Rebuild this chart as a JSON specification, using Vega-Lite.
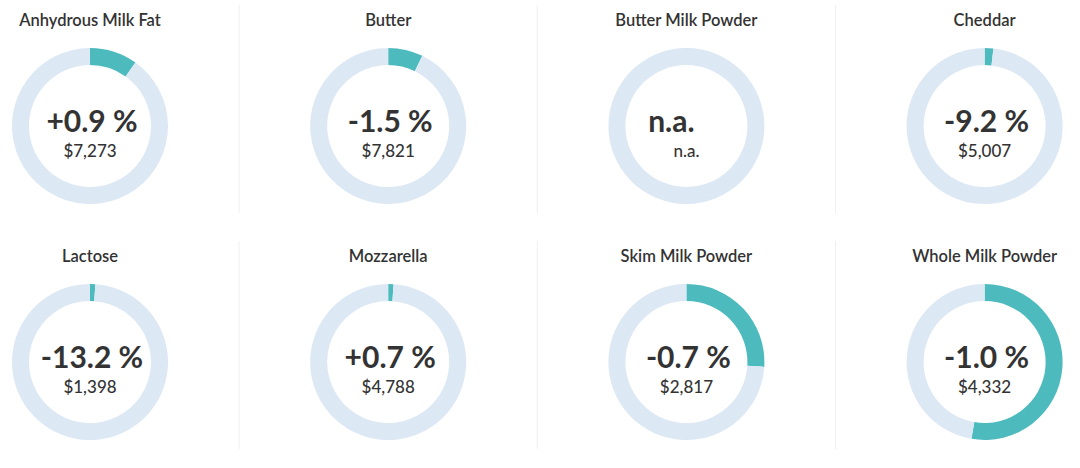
{
  "$schema": "https://vega.github.io/schema/vega-lite/v6.json",
  "width": 1080,
  "height": 468,
  "autosize": {"type": "fit", "contains": "padding"},
  "padding": 0,
  "background": "white",
  "config": {"view": {"stroke": null}, "font": "Lato"},
  "datasets": {
    "arcs": [
      {"product": "Anhydrous Milk Fat", "col": 0, "row": 0, "part": "change", "a0": 0, "a1": 0.099},
      {"product": "Anhydrous Milk Fat", "col": 0, "row": 0, "part": "rest", "a0": 0.099, "a1": 1},
      {"product": "Butter", "col": 1, "row": 0, "part": "change", "a0": 0, "a1": 0.072},
      {"product": "Butter", "col": 1, "row": 0, "part": "rest", "a0": 0.072, "a1": 1},
      {"product": "Butter Milk Powder", "col": 2, "row": 0, "part": "rest", "a0": 0, "a1": 1},
      {"product": "Cheddar", "col": 3, "row": 0, "part": "change", "a0": 0, "a1": 0.018},
      {"product": "Cheddar", "col": 3, "row": 0, "part": "rest", "a0": 0.018, "a1": 1},
      {"product": "Lactose", "col": 0, "row": 1, "part": "change", "a0": 0, "a1": 0.011},
      {"product": "Lactose", "col": 0, "row": 1, "part": "rest", "a0": 0.011, "a1": 1},
      {"product": "Mozzarella", "col": 1, "row": 1, "part": "change", "a0": 0, "a1": 0.011},
      {"product": "Mozzarella", "col": 1, "row": 1, "part": "rest", "a0": 0.011, "a1": 1},
      {"product": "Skim Milk Powder", "col": 2, "row": 1, "part": "change", "a0": 0, "a1": 0.26},
      {"product": "Skim Milk Powder", "col": 2, "row": 1, "part": "rest", "a0": 0.26, "a1": 1},
      {"product": "Whole Milk Powder", "col": 3, "row": 1, "part": "change", "a0": 0, "a1": 0.527},
      {"product": "Whole Milk Powder", "col": 3, "row": 1, "part": "rest", "a0": 0.527, "a1": 1}
    ],
    "panels": [
      {"product": "Anhydrous Milk Fat", "col": 0, "row": 0, "pct": "+0.9 %", "price": "$7,273"},
      {"product": "Butter", "col": 1, "row": 0, "pct": "-1.5 %", "price": "$7,821"},
      {"product": "Butter Milk Powder", "col": 2, "row": 0, "pct": "n.a.", "price": "n.a."},
      {"product": "Cheddar", "col": 3, "row": 0, "pct": "-9.2 %", "price": "$5,007"},
      {"product": "Lactose", "col": 0, "row": 1, "pct": "-13.2 %", "price": "$1,398"},
      {"product": "Mozzarella", "col": 1, "row": 1, "pct": "+0.7 %", "price": "$4,788"},
      {"product": "Skim Milk Powder", "col": 2, "row": 1, "pct": "-0.7 %", "price": "$2,817"},
      {"product": "Whole Milk Powder", "col": 3, "row": 1, "pct": "-1.0 %", "price": "$4,332"}
    ],
    "seps": [
      {"col": 0.5, "row": 0}, {"col": 1.5, "row": 0}, {"col": 2.5, "row": 0},
      {"col": 0.5, "row": 1}, {"col": 1.5, "row": 1}, {"col": 2.5, "row": 1}
    ]
  },
  "encoding": {
    "x": {"field": "col", "type": "quantitative", "axis": null, "scale": {"domain": [-0.3018, 3.3199], "nice": false, "zero": false}},
    "y": {"field": "row", "type": "quantitative", "axis": null, "scale": {"domain": [-0.5339, 1.4492], "nice": false, "zero": false, "reverse": true}}
  },
  "layer": [
    {
      "data": {"name": "seps"},
      "mark": {"type": "rule", "color": "#efefef", "strokeWidth": 1, "yOffset": -121, "y2Offset": 87},
      "encoding": {"y2": {"field": "row"}}
    },
    {
      "data": {"name": "arcs"},
      "mark": {"type": "arc", "radius": 78, "radius2": 61},
      "encoding": {
        "theta": {"field": "a0", "type": "quantitative", "stack": null, "scale": {"domain": [0, 1], "range": [0, 6.283185307]}},
        "theta2": {"field": "a1"},
        "color": {"field": "part", "type": "nominal", "legend": null, "scale": {"domain": ["rest", "change"], "range": ["#dde8f5", "#4dbbbe"]}}
      }
    },
    {
      "data": {"name": "panels"},
      "mark": {"type": "text", "fontSize": 16.5, "fontWeight": 600, "color": "#333333", "align": "center", "baseline": "alphabetic", "dy": -100},
      "encoding": {"text": {"field": "product"}}
    },
    {
      "data": {"name": "panels"},
      "transform": [{"filter": "datum.pct !== 'n.a.'"}],
      "mark": {"type": "text", "fontSize": 30, "fontWeight": "bold", "color": "#333333", "align": "center", "baseline": "alphabetic", "dy": 6, "dx": 2},
      "encoding": {"text": {"field": "pct"}}
    },
    {
      "data": {"name": "panels"},
      "transform": [{"filter": "datum.pct === 'n.a.'"}],
      "mark": {"type": "text", "fontSize": 30, "fontWeight": "bold", "color": "#333333", "align": "center", "baseline": "alphabetic", "dy": 6, "dx": -15},
      "encoding": {"text": {"field": "pct"}}
    },
    {
      "data": {"name": "panels"},
      "mark": {"type": "text", "fontSize": 17, "fontWeight": 500, "color": "#333333", "align": "center", "baseline": "alphabetic", "dy": 31},
      "encoding": {"text": {"field": "price"}}
    }
  ]
}
